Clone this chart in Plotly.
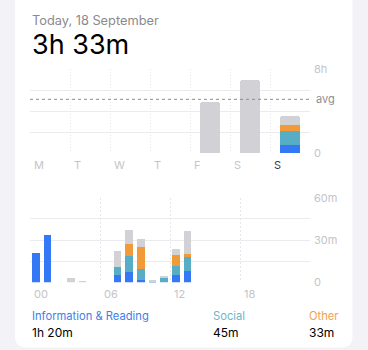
import plotly.graph_objects as go

W, H = 368, 350

# ---------------- data ----------------
days = ["M", "T", "W", "T", "F", "S", "S"]
week_info = [0, 0, 0, 0, 0, 0, 0.80]
week_social = [0, 0, 0, 0, 0, 0, 1.33]
week_other = [0, 0, 0, 0, 0, 0, 0.57]
week_rest = [0, 0, 0, 0, 4.86, 6.98, 0.85]
avg_hours = 5.14

hours = list(range(24))
hour_info = [21, 33.5, 0, 0, 0, 0, 0, 5.4, 7.8, 1.7, 0.3, 0, 5.2, 8.0, 0, 0, 0, 0, 0, 0, 0, 0, 0, 0]
hour_social = [0, 0, 0, 0, 0, 0, 0, 5.7, 11.3, 8.3, 0.4, 3.0, 6.9, 10.4, 0, 0, 0, 0, 0, 0, 0, 0, 0, 0]
hour_other = [0, 0, 0, 0, 0, 0, 0, 0, 8.0, 14.9, 0, 0, 7.3, 2.1, 0, 0, 0, 0, 0, 0, 0, 0, 0, 0]
hour_rest = [0, 0, 0, 3.5, 0.6, 0, 0, 11.1, 10.2, 5.9, 0.5, 2.0, 4.3, 16.3, 0, 0, 0, 0, 0, 0, 0, 0, 0, 0]

week_ticks = [0, 2, 4, 6, 8]
week_ticktext = ["0", "", "", "", "8h"]
hour_ticks = [0, 15, 30, 45, 60]
hour_ticktext = ["0", "", "30m", "", "60m"]
hour_xticks = [0, 6, 12, 18, 24]
hour_xticktext = ["00", "06", "12", "18", ""]

title_date = "Today, 18 September"
title_total = "3h 33m"
cat_names = ["Information & Reading", "Social", "Other"]
cat_values = ["1h 20m", "45m", "33m"]

# ---------------- style ----------------
C_INFO = "#3478f6"
C_SOCIAL = "#58adc6"
C_OTHER = "#f19a38"
C_REST = "#d1d1d6"
GRID = "#ebebef"
VGRID = "#e6e6eb"
LABEL = "#c4c4c9"
FONT = "Inter"


def px_x(x):
    return x / W


def px_y(y):
    return 1 - y / H


fig = go.Figure()

week_x = [i + 0.5 for i in range(len(days))]
hour_x = [h + 0.5 for h in hours]

for vals, col in [(week_info, C_INFO), (week_social, C_SOCIAL), (week_other, C_OTHER), (week_rest, C_REST)]:
    fig.add_trace(go.Bar(x=week_x, y=vals, marker=dict(color=col, line=dict(width=0)),
                         width=0.5, xaxis="x", yaxis="y", showlegend=False, hoverinfo="skip"))

for vals, col in [(hour_info, C_INFO), (hour_social, C_SOCIAL), (hour_other, C_OTHER), (hour_rest, C_REST)]:
    fig.add_trace(go.Bar(x=hour_x, y=vals, marker=dict(color=col, line=dict(width=0)),
                         width=0.68, xaxis="x2", yaxis="y2", showlegend=False, hoverinfo="skip"))

# avg dashed line
fig.add_trace(go.Scatter(x=[0, 7], y=[avg_hours, avg_hours], mode="lines",
                         line=dict(color="#8e8e93", width=1, dash="3px,3px"),
                         xaxis="x", yaxis="y", showlegend=False, hoverinfo="skip"))

day_text = [d if i < len(days) - 1 else "<span style='color:#3a3a3c'>%s</span>" % d for i, d in enumerate(days)]

xdom = [px_x(30), px_x(310)]

# card background (rounded bottom corners, top runs off the page)
r = 11
x0, x1, y0, y1 = 15, 352.5, -20, 347.5
path = (f"M {px_x(x0)},{px_y(y0)} L {px_x(x1)},{px_y(y0)} L {px_x(x1)},{px_y(y1 - r)} "
        f"Q {px_x(x1)},{px_y(y1)} {px_x(x1 - r)},{px_y(y1)} L {px_x(x0 + r)},{px_y(y1)} "
        f"Q {px_x(x0)},{px_y(y1)} {px_x(x0)},{px_y(y1 - r)} Z")

annotations = [
    dict(text=title_date, x=px_x(30), y=px_y(20), xanchor="left", yanchor="middle",
         font=dict(size=12.8, color="#8a8a8e", family=FONT)),
    dict(text=title_total, x=px_x(29.5), y=px_y(45), xanchor="left", yanchor="middle",
         font=dict(size=27, color="#000000", family=FONT)),
    dict(text="avg", x=1, xref="paper", y=avg_hours, yref="y", xanchor="left", yanchor="middle",
         xshift=-(W - 314), font=dict(size=11, color="#8e8e93", family=FONT), showarrow=False),
]
cat_x = [30, 211, 307]
cat_colors = ["#3f80e6", "#6db6c9", "#f0a24f"]
for name, val, cx, cc in zip(cat_names, cat_values, cat_x, cat_colors):
    annotations.append(dict(text=name, x=px_x(cx), y=px_y(316), xanchor="left", yanchor="middle",
                            font=dict(size=11.2, color=cc, family=FONT)))
    annotations.append(dict(text=val, x=px_x(cx), y=px_y(332), xanchor="left", yanchor="middle",
                            font=dict(size=12, color="#000000", family=FONT)))
for a in annotations:
    a.setdefault("xref", "paper")
    a.setdefault("yref", "paper")
    a.setdefault("showarrow", False)

common_axis = dict(zeroline=False, showline=False, ticks="", fixedrange=True, automargin=False)

fig.update_layout(
    template="none",
    width=W, height=H,
    margin=dict(l=0, r=0, t=0, b=0, pad=0),
    paper_bgcolor="#f2f2f7",
    plot_bgcolor="rgba(0,0,0,0)",
    barmode="stack",
    barcornerradius=2,
    bargap=0,
    showlegend=False,
    font=dict(family=FONT),
    shapes=[dict(type="path", path=path, xref="paper", yref="paper",
                 fillcolor="#ffffff", line=dict(width=0), layer="below")],
    annotations=annotations,
    xaxis=dict(domain=xdom, range=[0, 7], tickvals=list(range(8)),
               ticktext=day_text + [""], ticklabelposition="outside right", ticklabelshift=4,
               showgrid=True, gridcolor=VGRID, griddash="1px,2px", gridwidth=1,
               tickfont=dict(size=11, color=LABEL, family=FONT), anchor="y", ticklabelstandoff=4,
               **common_axis),
    yaxis=dict(domain=[px_y(153.3), px_y(69.3)], range=[0, 8], side="right",
               tickvals=week_ticks, ticktext=week_ticktext,
               showgrid=True, gridcolor=GRID,
               tickfont=dict(size=11, color=LABEL, family=FONT), anchor="x", ticklabelstandoff=3,
               **common_axis),
    xaxis2=dict(domain=xdom, range=[0, 24], tickvals=hour_xticks, ticktext=hour_xticktext,
                ticklabelposition="outside right", ticklabelshift=4,
                showgrid=True, gridcolor=VGRID, griddash="2px,2px", gridwidth=1,
                tickfont=dict(size=11, color=LABEL, family=FONT), anchor="y2", ticklabelstandoff=4,
                **common_axis),
    yaxis2=dict(domain=[px_y(282.3), px_y(197.7)], range=[0, 60], side="right",
                tickvals=hour_ticks, ticktext=hour_ticktext,
                showgrid=True, gridcolor=GRID,
                tickfont=dict(size=11, color=LABEL, family=FONT), anchor="x2", ticklabelstandoff=3,
                **common_axis),
)

fig.write_html("out.html")
